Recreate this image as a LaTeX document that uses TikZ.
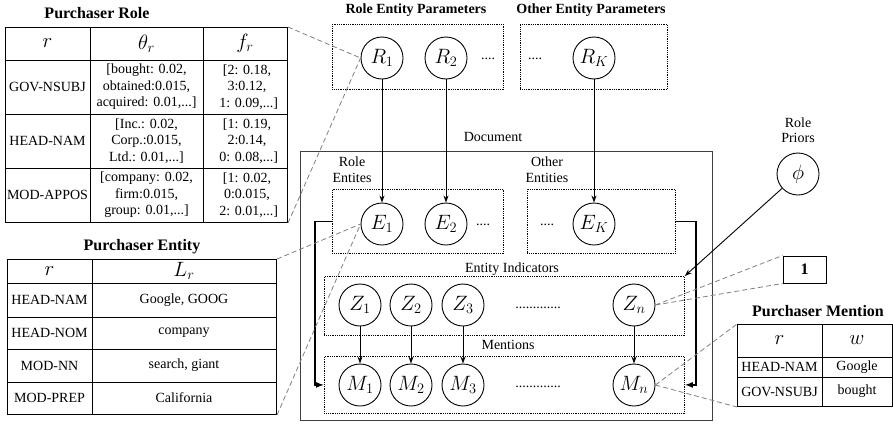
\documentclass[tikz,border=0pt]{standalone}
\usepackage{fontspec}
\setmainfont{Liberation Serif}
\usetikzlibrary{arrows.meta}
\begin{document}
\begin{tikzpicture}[x=1pt,y=-1pt,
 txt/.style={font=\fontsize{14}{16.5}\selectfont, inner sep=0pt, align=center},
 ttl/.style={font=\fontsize{16}{18}\selectfont\bfseries, inner sep=0pt},
 ttls/.style={font=\fontsize{14}{16}\selectfont\bfseries, inner sep=0pt},
 var/.style={circle, draw, line width=0.9pt, minimum size=42pt, inner sep=0pt, font=\fontsize{20}{22}\selectfont},
 mth/.style={font=\fontsize{20}{22}\selectfont, inner sep=0pt},
 plate/.style={draw, densely dotted, line width=0.8pt, anchor=north west, inner sep=0pt},
 docbox/.style={draw, black!75, line width=0.9pt, anchor=north west, inner sep=0pt},
 tbl/.style={draw, line width=1pt, anchor=north west, inner sep=0pt},
 tline/.style={line width=1pt},
 arr/.style={-{Stealth[length=7pt,width=5pt]}, line width=0.9pt},
 looparr/.style={-{Latex[length=8pt,width=6pt]}, line width=1.4pt},
 link/.style={gray, line width=0.8pt, dash pattern=on 5pt off 3pt},
 dotsn/.style={font=\fontsize{14}{16}\selectfont, inner sep=0pt, anchor=base},
]
\useasboundingbox (0,0) rectangle (893,426);

% ---------- plates ----------
\node[plate, minimum width=171pt, minimum height=65pt] (rep) at (332,24) {};
\node[plate, minimum width=147pt, minimum height=65pt] (oep) at (520,24) {};
\node[docbox, minimum width=412pt, minimum height=269pt] (doc) at (300,151) {};
\node[plate, minimum width=171pt, minimum height=64pt] (re) at (332,189) {};
\node[plate, minimum width=148pt, minimum height=64pt] (oe) at (527,189) {};
\node[plate, minimum width=360pt, minimum height=59pt] (ei) at (324,276) {};
\node[plate, minimum width=360pt, minimum height=57pt] (men) at (324,356) {};

% ---------- labels ----------
\node[ttls] (lrep) at (416,10) {Role Entity Parameters};
\node[ttls] (loep) at (591,10) {Other Entity Parameters};
\node[txt] (ldoc) at (493,137) {Document};
\node[txt, font=\fontsize{14}{16}\selectfont] (lre) at (352,170) {Role\\Entites};
\node[txt, font=\fontsize{14}{16}\selectfont] (loe) at (547,170) {Other\\Entities};
\node[txt] (lei) at (512,269) {Entity Indicators};
\node[txt] (lmen) at (508,345) {Mentions};
\node[txt, font=\fontsize{14}{15}\selectfont] (lphi) at (798,130) {Role\\Priors};

% ---------- variables ----------
\node[var] (R1) at (382,58) {$R_1$};
\node[var] (R2) at (446,58) {$R_2$};
\node[var] (RK) at (594,58) {$R_K$};
\node[var] (E1) at (382,224) {$E_1$};
\node[var] (E2) at (446,224) {$E_2$};
\node[var] (EK) at (594,224) {$E_K$};
\node[var] (Z1) at (360,305) {$Z_1$};
\node[var] (Z2) at (411,305) {$Z_2$};
\node[var] (Z3) at (463,305) {$Z_3$};
\node[var] (Zn) at (634,305) {$Z_n$};
\node[var] (M1) at (360,385) {$M_1$};
\node[var] (M2) at (411,385) {$M_2$};
\node[var] (M3) at (463,385) {$M_3$};
\node[var] (Mn) at (634,385) {$M_n$};
\node[var] (phi) at (798,174) {$\phi$};

\node[dotsn] (d1) at (488,59) {....};
\node[dotsn] (d2) at (535,59) {....};
\node[dotsn] (d3) at (483,225) {....};
\node[dotsn] (d4) at (547,225) {....};
\node[dotsn] (d5) at (538,308) {.............};
\node[dotsn] (d6) at (538,387) {.............};

\node[draw, line width=1pt, minimum width=43pt, minimum height=27pt, inner sep=0pt,
      font=\fontsize{16}{18}\selectfont\bfseries] (one) at (804.5,269.5) {1};

% ---------- arrows ----------
\draw[arr] (R1) -- (E1);
\draw[arr] (R2) -- (E2);
\draw[arr] (RK) -- (EK);
\draw[arr] (Z1) -- (M1);
\draw[arr] (Z2) -- (M2);
\draw[arr] (Z3) -- (M3);
\draw[arr] (Zn) -- (Mn);
\draw[arr] (phi) -- (ei.north east);
\draw[looparr] (re.west) -- ++(-17,0) |- (men.west);
\draw[looparr] (oe.east) -- ++(20,0) |- (men.east);

% ---------- Purchaser Role table ----------
\node[ttl] (troleT) at (97,13) {Purchaser Role};
\node[tbl, minimum width=282pt, minimum height=195pt] (roleT) at (5,27) {};
\draw[tline] (90,27) -- (90,222) (203,27) -- (203,222)
  (5,60) -- (287,60) (5,114) -- (287,114) (5,168) -- (287,168);
\node[mth] (rh1) at (47.5,43.5) {$r$};
\node[mth] (rh2) at (146.5,43.5) {$\theta_r$};
\node[mth] (rh3) at (245,43.5) {$f_r$};
\node[txt] (r11) at (47.5,87) {GOV-NSUBJ};
\node[txt] (r12) at (146.5,87) {[bought: 0.02,\\obtained:0.015,\\acquired: 0.01,...]};
\node[txt] (r13) at (247,87) {[2: 0.18,\\3:0.12,\\\ 1: 0.09,...]};
\node[txt] (r21) at (47.5,141) {HEAD-NAM};
\node[txt] (r22) at (146.5,141) {[Inc.: 0.02,\\Corp.:0.015,\\Ltd.: 0.01,...]};
\node[txt] (r23) at (247,141) {[1: 0.19,\\2:0.14,\\\ 0: 0.08,...]};
\node[txt] (r31) at (47.5,195) {MOD-APPOS};
\node[txt] (r32) at (146.5,195) {[company: 0.02,\\firm:0.015,\\group: 0.01,...]};
\node[txt] (r33) at (247,195) {[1: 0.02,\\0:0.015,\\\ 2: 0.01,...]};

% ---------- Purchaser Entity table ----------
\node[ttl] (tentT) at (142,247) {Purchaser Entity};
\node[tbl, minimum width=269pt, minimum height=155pt] (entT) at (7,259) {};
\draw[tline] (92,259) -- (92,414)
  (7,283) -- (276,283) (7,317) -- (276,317) (7,349) -- (276,349) (7,382) -- (276,382);
\node[mth] (eh1) at (49.5,271) {$r$};
\node[mth] (eh2) at (184,271) {$L_r$};
\node[txt] (e11) at (49.5,300) {HEAD-NAM};
\node[txt] (e12) at (184,300) {Google, GOOG};
\node[txt] (e21) at (49.5,333) {HEAD-NOM};
\node[txt] (e22) at (184,333) {company};
\node[txt] (e31) at (49.5,365.5) {MOD-NN};
\node[txt] (e32) at (184,365.5) {search, giant};
\node[txt] (e41) at (49.5,398) {MOD-PREP};
\node[txt] (e42) at (184,398) {California};

% ---------- Purchaser Mention table ----------
\node[ttl] (tmenT) at (818,311) {Purchaser Mention};
\node[tbl, minimum width=155pt, minimum height=82pt] (menT) at (737,324) {};
\draw[tline] (822,324) -- (822,406) (737,357) -- (892,357) (737,377) -- (892,377);
\node[mth] (mh1) at (779.5,340.5) {$r$};
\node[mth] (mh2) at (857,340.5) {$w$};
\node[txt] (m11) at (779.5,367) {HEAD-NAM};
\node[txt] (m12) at (857,367) {Google};
\node[txt] (m21) at (779.5,391.5) {GOV-NSUBJ};
\node[txt] (m22) at (857,391.5) {bought};

% ---------- dashed links ----------
\draw[link] (roleT.north east) -- (R1.west);
\draw[link] (roleT.south east) -- (R1.west);
\draw[link] (entT.north east) -- (E1.west);
\draw[link] (entT.south east) -- (E1.west);
\draw[link] (Zn.east) -- (one.north west);
\draw[link] (Zn.east) -- (one.south west);
\draw[link] (Mn.east) -- (menT.north west);
\draw[link] (Mn.east) -- (menT.south west);
\end{tikzpicture}
\end{document}
